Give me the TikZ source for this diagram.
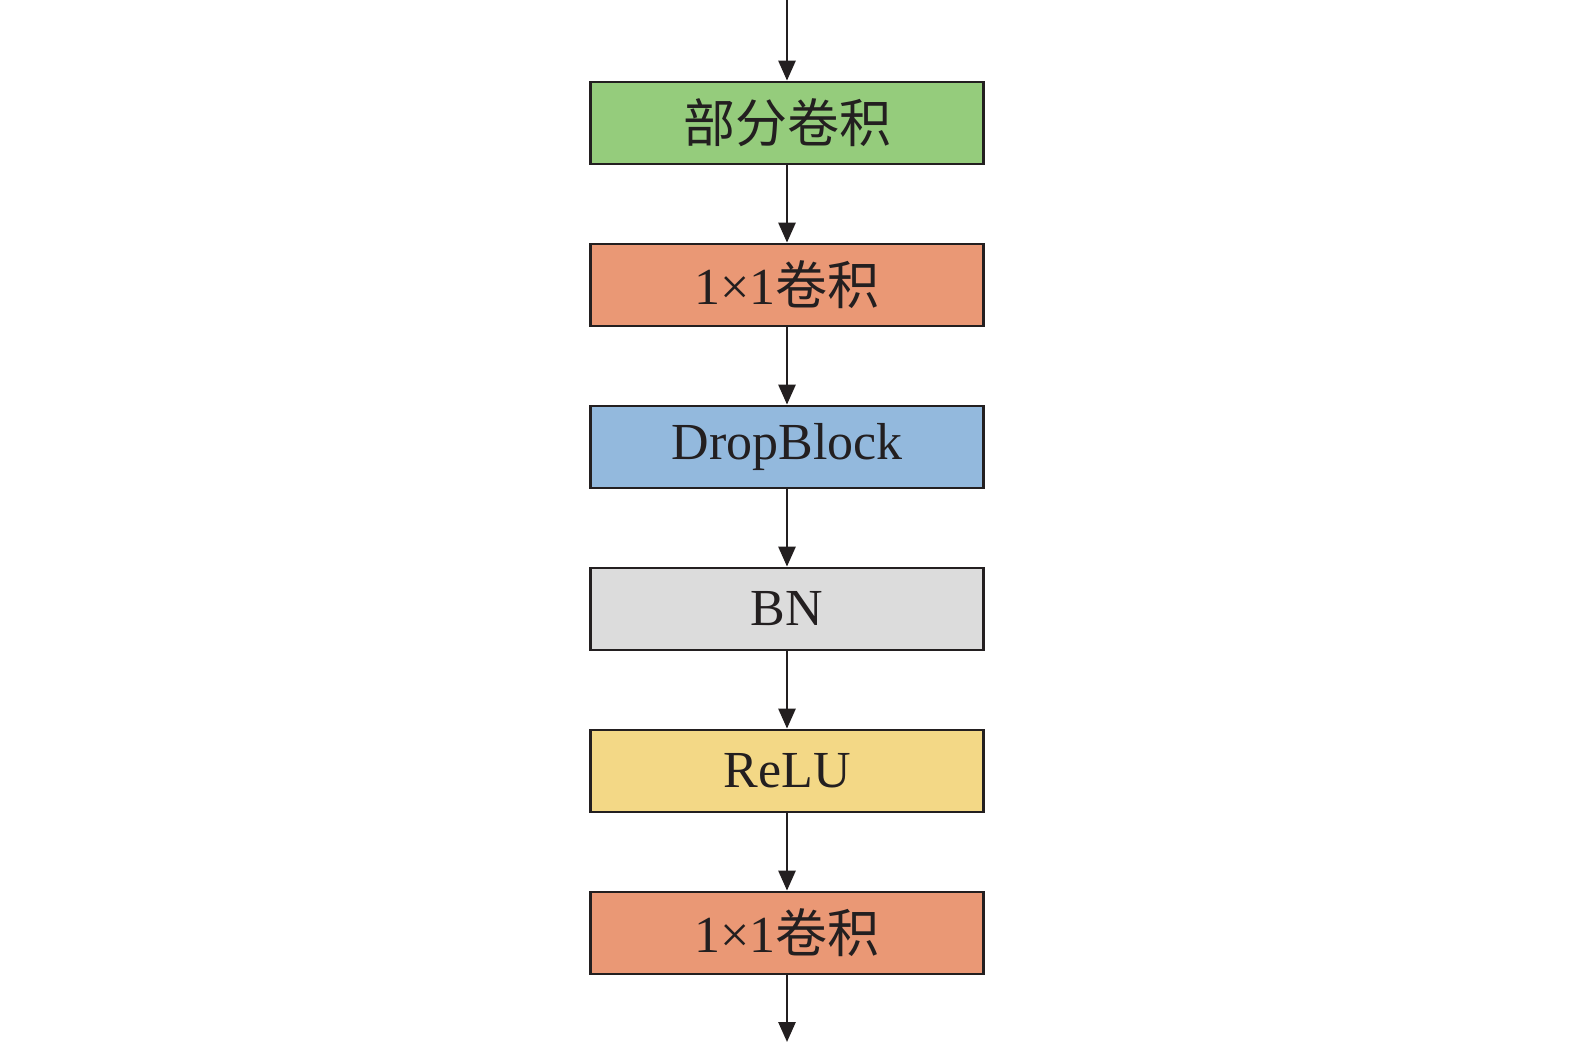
\documentclass[tikz,border=0pt]{standalone}
\usepackage{fontspec}
\setmainfont{Liberation Serif}
\newfontfamily\cjk{Noto Sans CJK SC}
\usetikzlibrary{arrows.meta}
\definecolor{cgreen}{HTML}{95CC7C}
\definecolor{corange}{HTML}{EA9875}
\definecolor{cblue}{HTML}{93B9DD}
\definecolor{cgray}{HTML}{DCDCDC}
\definecolor{cyellow}{HTML}{F3D886}
\definecolor{cline}{HTML}{231F20}
\begin{document}
\begin{tikzpicture}[x=1pt,y=-1pt,
  blk/.style={draw=cline, line width=2.8pt, minimum width=393pt, minimum height=82pt,
    inner sep=0pt, font=\fontsize{52}{60}\selectfont, text=cline},
  arr/.style={draw=cline, line width=2.8pt, -{Triangle[length=20pt,width=17pt]}}]
\useasboundingbox (0,0) rectangle (1575,1042);
\coordinate (in) at (787,0);
\coordinate (out) at (787,1042);
\node[blk, fill=cgreen] (b1) at (787,123) {{\cjk 部分卷积}};
\node[blk, fill=corange] (b2) at (787,285) {1×1{\cjk 卷积}};
\node[blk, fill=cblue] (b3) at (787,447) {DropBlock};
\node[blk, fill=cgray] (b4) at (787,609) {BN};
\node[blk, fill=cyellow] (b5) at (787,771) {ReLU};
\node[blk, fill=corange] (b6) at (787,933) {1×1{\cjk 卷积}};
\draw[arr] (in) -- (b1);
\draw[arr] (b1) -- (b2);
\draw[arr] (b2) -- (b3);
\draw[arr] (b3) -- (b4);
\draw[arr] (b4) -- (b5);
\draw[arr] (b5) -- (b6);
\draw[arr] (b6) -- (out);
\end{tikzpicture}
\end{document}
